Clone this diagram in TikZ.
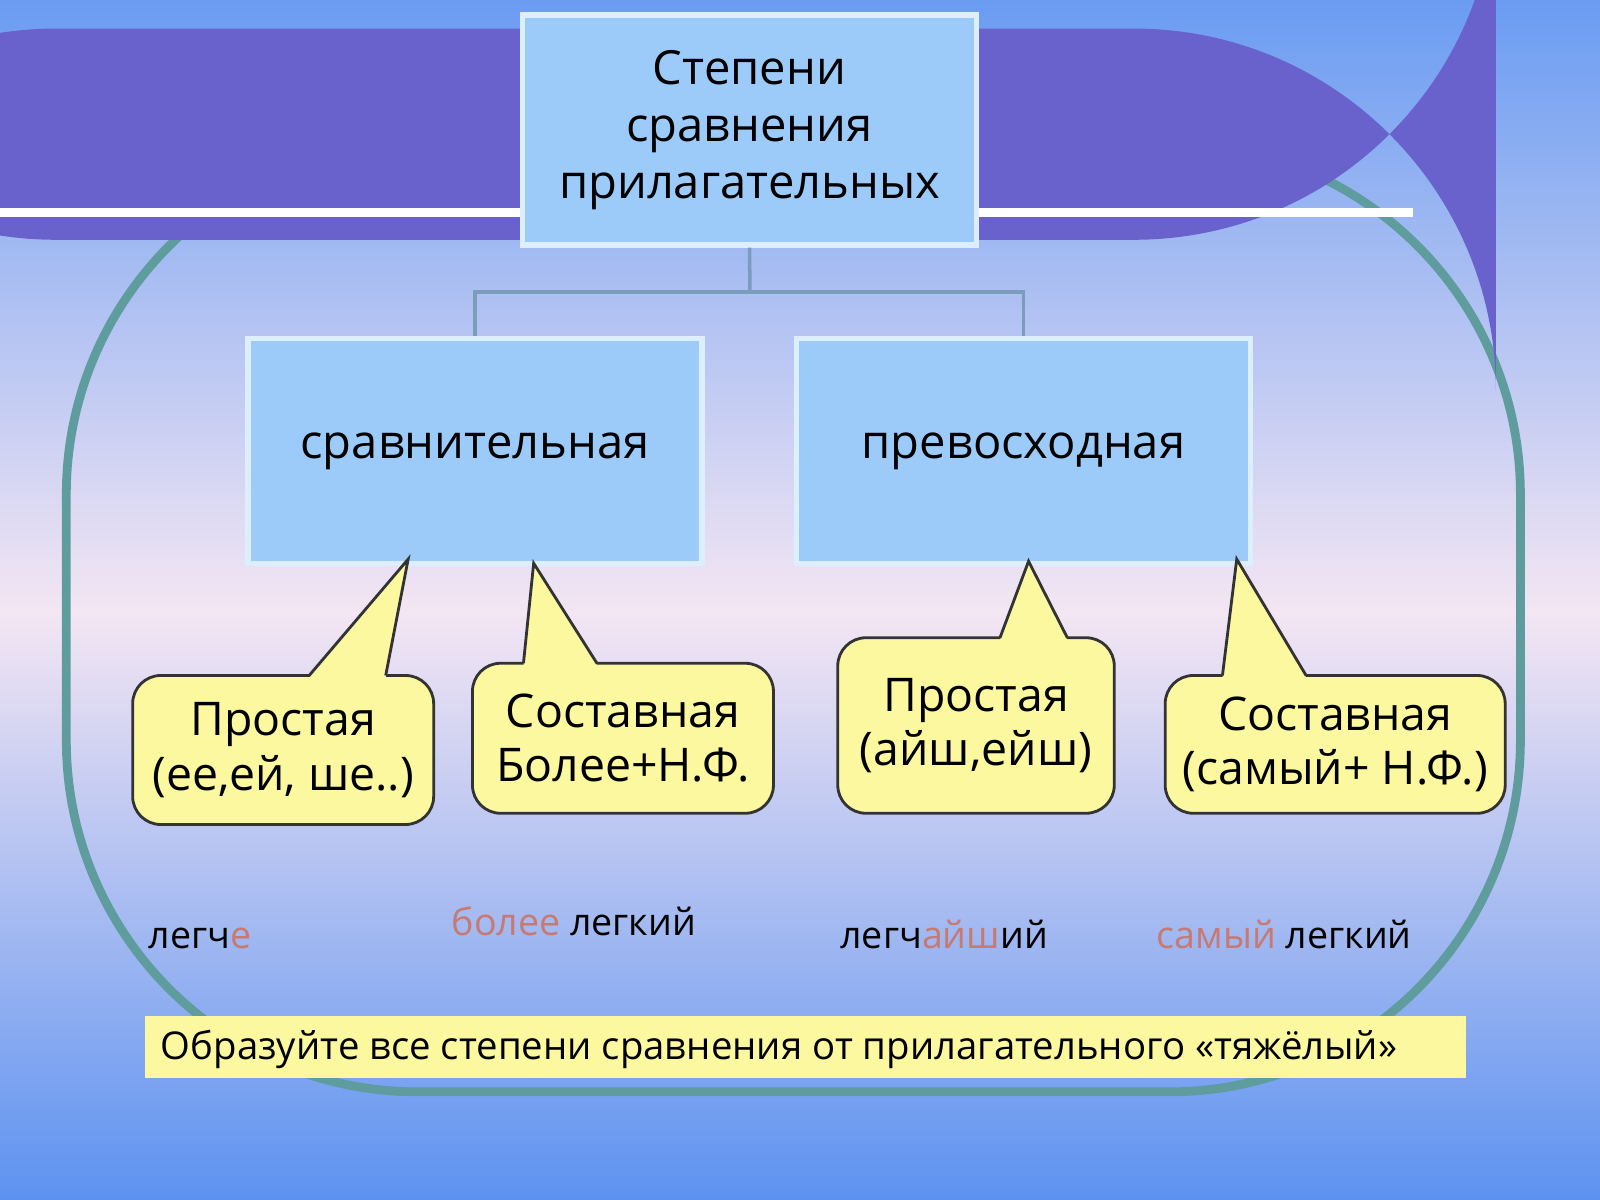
\documentclass[tikz,border=0pt]{standalone}
\usepackage{fontspec}
\setmainfont{Open Sans}
\definecolor{bgtop}{HTML}{6A9CF2}
\definecolor{bgmid}{HTML}{F4E6F3}
\definecolor{bgbot}{HTML}{5C92F0}
\definecolor{banner}{HTML}{6A62CC}
\definecolor{frame}{HTML}{5E9C9E}
\definecolor{boxfill}{HTML}{9DCBF9}
\definecolor{boxedge}{HTML}{DDEEFF}
\definecolor{conn}{HTML}{7C9CBC}
\definecolor{callfill}{HTML}{FBF8A0}
\definecolor{accent}{HTML}{C77A72}
\tikzset{
  bluebox/.style={draw=boxedge,line width=1.5pt,fill=boxfill,align=center,font=\fontsize{13.4}{16.2}\selectfont,inner sep=0pt},
  callout/.style={draw=black!80,line width=0.8pt,fill=callfill,rounded corners=8pt,align=center,font=\fontsize{13.2}{15.5}\selectfont,inner sep=0pt},
  word/.style={anchor=base west,inner sep=0pt,font=\fontsize{10.7}{12}\selectfont},
  connline/.style={draw=conn,line width=1pt}
}
\begin{document}
\begin{tikzpicture}[x=1cm/98,y=-1cm/98]
\useasboundingbox (0,0) rectangle (1568,1176);
\shade[top color=bgtop,bottom color=bgmid] (0,0) rectangle (1568,600);
\shade[top color=bgmid,bottom color=bgbot] (0,600) rectangle (1568,1176);
% frame
\draw[frame,line width=2.5pt,rounded corners=100] (65,140) rectangle (1490,1070);
% banner
\fill[banner,rounded corners=103] (-300,28) -- (1466,28) -- (1466,235) -- (-300,235) -- cycle;
\draw[white,line width=2.5pt] (0,208) -- (1385,208);
% boxes
\node[bluebox,minimum width=4.54cm,minimum height=2.30cm] (top) at (734.5,127.5) {Степени\\сравнения\\прилагательных};
\node[bluebox,minimum width=4.54cm,minimum height=2.245cm] (cmp) at (465.5,442) {сравнительная};
\node[bluebox,minimum width=4.54cm,minimum height=2.245cm] (sup) at (1003,442) {превосходная};
\coordinate (j) at (735,286);
\draw[connline] (top.south) -- (j);
\draw[connline] (cmp.north) |- (j) -| (sup.north);
% callouts
\node[callout,minimum width=3.01cm,minimum height=1.49cm] (c1) at (277.5,735) {Простая\\(ее,ей, ше..)};
\node[callout,minimum width=3.01cm,minimum height=1.50cm] (c2) at (610.5,723.5) {Составная\\Более+Н.Ф.};
\node[callout,minimum width=2.765cm,minimum height=1.755cm] (c3) at (956.5,711) {Простая\\(айш,ейш)};
\node[callout,minimum width=3.40cm,minimum height=1.378cm] (c4) at (1308.5,729.5) {Составная\\(самый+ Н.Ф.)};
\fill[callfill] (303,664) -- (400,548) -- (378,664) -- cycle;
\draw[black!80,line width=0.8pt] (303,662) -- (400,548) -- (378,662);
\fill[callfill] (513,652) -- (523,552) -- (585,652) -- cycle;
\draw[black!80,line width=0.8pt] (513,650) -- (523,552) -- (585,650);
\fill[callfill] (980,627) -- (1008,550) -- (1046,627) -- cycle;
\draw[black!80,line width=0.8pt] (980,625) -- (1008,550) -- (1046,625);
\fill[callfill] (1198,664) -- (1212,548) -- (1280,664) -- cycle;
\draw[black!80,line width=0.8pt] (1198,662) -- (1212,548) -- (1280,662);
% example words
\node[word] (w1) at (145,930) {легч\textcolor{accent}{е}};
\node[word] (w2) at (442,917) {\textcolor{accent}{более} легкий};
\node[word] (w3) at (823,930) {легч\textcolor{accent}{айш}ий};
\node[word] (w4) at (1133,930) {\textcolor{accent}{самый} легкий};
% bottom bar
\node[fill=callfill,minimum width=13.21cm,minimum height=0.62cm,inner sep=0pt] (bar) at (789.5,1026.5) {};
\node[anchor=west,inner sep=0pt,font=\fontsize{10.9}{12}\selectfont] (task) at (157,1028) {Образуйте все степени сравнения от прилагательного «тяжёлый»};
\end{tikzpicture}
\end{document}
